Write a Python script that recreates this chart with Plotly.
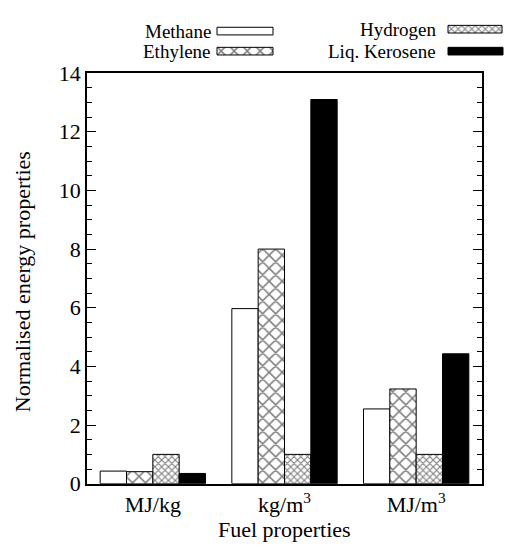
import plotly.graph_objects as go

# ---- data ----
categories = ["MJ/kg", "kg/m<sup>3</sup>", "MJ/m<sup>3</sup>"]
methane = [0.43, 5.97, 2.55]
ethylene = [0.41, 8.0, 3.23]
hydrogen = [1.0, 1.0, 1.0]
kerosene = [0.35, 13.1, 4.43]
series_names = ["Methane", "Ethylene", "Hydrogen", "Liq. Kerosene"]
y_ticks = [0, 2, 4, 6, 8, 10, 12, 14]

W, H = 506, 554
FONT = "Liberation Serif"

styles = [
    dict(color="white", pattern=dict(shape="")),
    dict(color="white", pattern=dict(shape="x", size=9.2, solidity=0.3, fgcolor="black", bgcolor="white")),
    dict(color="white", pattern=dict(shape="x", size=4.8, solidity=0.42, fgcolor="black", bgcolor="white")),
    dict(color="black", pattern=dict(shape="")),
]

fig = go.Figure()
for name, vals, st in zip(series_names, [methane, ethylene, hydrogen, kerosene], styles):
    fig.add_trace(go.Bar(
        x=categories, y=vals, name=name,
        marker=dict(color=st["color"], pattern=st["pattern"],
                    line=dict(color="black", width=1)),
        showlegend=False, xaxis="x", yaxis="y",
    ))

# ---- custom gnuplot-style key (text then sample) on a pixel overlay axis ----
key_layout = [
    # (text right x, sample x0, sample x1, row center y)
    (213, 217, 273, 20),
    (213, 217, 273, 41),
    (438, 448, 502, 18),
    (438, 448, 503, 41),
]
for name, st, (tx, x0, x1, yc) in zip(series_names, styles, key_layout):
    y0, y1 = yc - 4, yc + 4
    fp = st["pattern"] if st["pattern"]["shape"] else None
    fig.add_trace(go.Scatter(
        x=[x0, x1, x1, x0, x0], y=[y0, y0, y1, y1, y0],
        mode="lines", fill="toself",
        fillcolor=st["color"],
        fillpattern=fp,
        line=dict(color="black", width=1),
        xaxis="x2", yaxis="y2", showlegend=False, hoverinfo="skip",
    ))
    fig.add_annotation(x=tx, y=yc, xref="x2", yref="y2", text=name,
                       showarrow=False, xanchor="right", yanchor="middle",
                       font=dict(family=FONT, size=19, color="black"))

# axis titles
fig.add_annotation(x=22, y=283, xref="x2", yref="y2", text="Normalised energy properties",
                   showarrow=False, textangle=-90, xanchor="center", yanchor="middle",
                   font=dict(family=FONT, size=22, color="black"))
fig.add_annotation(x=284, y=542, xref="x2", yref="y2", text="Fuel properties",
                   showarrow=False, xanchor="center", yanchor="middle",
                   font=dict(family=FONT, size=22, color="black"))

fig.update_layout(
    width=W, height=H,
    margin=dict(l=0, r=0, t=0, b=0),
    paper_bgcolor="white", plot_bgcolor="rgba(0,0,0,0)",
    barmode="group", bargap=0.2, bargroupgap=0,
    font=dict(family=FONT, size=22, color="black"),
    xaxis=dict(
        domain=[87 / W, 482 / W], range=[-0.5, 2.5],
        showline=True, linecolor="black", linewidth=1.5, mirror=True,
        ticks="", showgrid=False, zeroline=False,
        tickfont=dict(family=FONT, size=22, color="black"),
        anchor="y",
    ),
    yaxis=dict(
        domain=[(H - 494) / H, (H - 64) / H], range=[0, 14],
        tickvals=y_ticks, ticktext=[str(v) for v in y_ticks],
        showline=True, linecolor="black", linewidth=1.5, mirror="ticks",
        ticks="inside", ticklen=9, tickwidth=1, tickcolor="black",
        minor=dict(dtick=0.5, ticks="inside", ticklen=5, tickwidth=1, tickcolor="black"),
        showgrid=False, zeroline=False,
        tickfont=dict(family=FONT, size=22, color="black"),
        anchor="x",
    ),
    xaxis2=dict(domain=[0, 1], range=[0, W], visible=False, anchor="y2", fixedrange=True),
    yaxis2=dict(domain=[0, 1], range=[H, 0], visible=False, anchor="x2", fixedrange=True),
)

fig.write_html("out.html")
